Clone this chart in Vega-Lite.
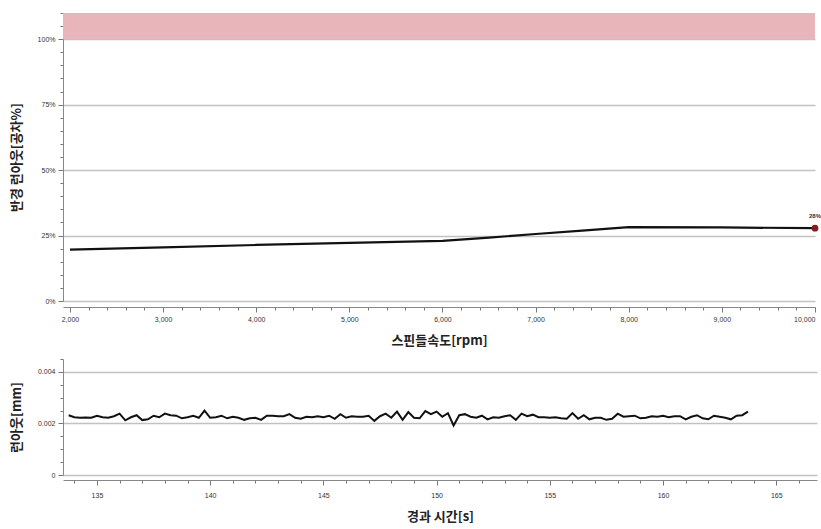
{
  "$schema": "https://vega.github.io/schema/vega-lite/v6.json",
  "padding": {"left": 10, "top": 9, "right": 0, "bottom": 5},
  "background": "white",
  "spacing": 8,
  "config": {
    "view": {"stroke": null},
    "font": "Noto Sans CJK KR",
    "axis": {
      "labelFont": "Liberation Sans",
      "labelFontSize": 7,
      "labelColor": "#333",
      "labelOverlap": false,
      "titleFont": "Noto Sans CJK KR",
      "titleFontSize": 13,
      "titleFontWeight": "bold",
      "titleColor": "#222",
      "domainColor": "#888",
      "tickColor": "#777",
      "gridWidth": 1.5
    }
  },
  "vconcat": [
    {
      "width": 752,
      "height": 288,
      "encoding": {
        "y": {
          "field": "pct", "type": "quantitative", "title": "반경 런아웃[공차%]",
          "scale": {"domain": [0, 110], "nice": false},
          "axis": {
            "values": [0,5,10,15,20,25,30,35,40,45,50,55,60,65,70,75,80,85,90,95,100,105,110],
            "labelExpr": "datum.value % 25 === 0 ? datum.value + '%' : ''",
            "grid": true,
            "gridColor": {"condition": {"test": "datum.value % 25 === 0 && datum.value <= 100", "value": "#c2c2c2"}, "value": "transparent"},
            "tickSize": {"condition": {"test": "datum.value % 25 === 0", "value": 5}, "value": 3},
            "labelPadding": 3,
            "titlePadding": 14
          }
        }
      },
      "layer": [
        {
          "data": {"values": [{"pct": 100, "pct2": 110}]},
          "mark": {"type": "rect", "color": "#e8b6ba"},
          "encoding": {
            "y2": {"field": "pct2"}
          }
        },
        {
          "data": {"values": [
            {"rpm": 2000, "pct": 19.6},
            {"rpm": 3000, "pct": 20.5},
            {"rpm": 4000, "pct": 21.4},
            {"rpm": 5000, "pct": 22.2},
            {"rpm": 6000, "pct": 23.0},
            {"rpm": 6500, "pct": 24.2},
            {"rpm": 7000, "pct": 25.6},
            {"rpm": 7500, "pct": 26.9},
            {"rpm": 8000, "pct": 28.2},
            {"rpm": 9000, "pct": 28.1},
            {"rpm": 10000, "pct": 27.8},
            {"rpm": 10000, "pct": 27.8, "label": "28%"}
          ]},
          "encoding": {
            "x": {
              "field": "rpm", "type": "quantitative",
              "scale": {"domain": [1925, 10000], "nice": false, "zero": false},
              "axis": {
                "title": "스핀들속도[rpm]",
                "values": [2000,2200,2400,2600,2800,3000,3200,3400,3600,3800,4000,4200,4400,4600,4800,5000,5200,5400,5600,5800,6000,6200,6400,6600,6800,7000,7200,7400,7600,7800,8000,8200,8400,8600,8800,9000,9200,9400,9600,9800,10000],
                "labelExpr": "datum.value % 1000 === 0 ? format(datum.value, ',') : ''",
                "tickSize": {"condition": {"test": "datum.value % 1000 === 0", "value": 5}, "value": 3},
                "offset": 6,
                "grid": false,
                "labelPadding": 3,
                "titlePadding": 12
              }
            }
          },
          "layer": [
            {
              "transform": [{"filter": "!isValid(datum.label)"}],
              "mark": {"type": "line", "color": "#111", "strokeWidth": 2.2}
            },
            {
              "transform": [{"filter": "isValid(datum.label)"}],
              "mark": {"type": "point", "filled": true, "color": "#8b1a1a", "size": 45, "opacity": 1}
            },
            {
              "transform": [{"filter": "isValid(datum.label)"}],
              "mark": {"type": "text", "dy": -12, "fontSize": 6, "fontWeight": "bold", "font": "Liberation Sans", "color": "#333"},
              "encoding": {"text": {"field": "label"}}
            }
          ]
        }
      ]
    },
    {
      "width": 754,
      "height": 116,
      "data": {"values": [
        {"t": 133.75, "r": 0.00232}, {"t": 134, "r": 0.00224}, {"t": 134.25, "r": 0.00222}, {"t": 134.5, "r": 0.00223}, {"t": 134.75, "r": 0.00222},
        {"t": 135, "r": 0.00230}, {"t": 135.25, "r": 0.00224}, {"t": 135.5, "r": 0.00222}, {"t": 135.75, "r": 0.00228},
        {"t": 136, "r": 0.00238}, {"t": 136.25, "r": 0.00212}, {"t": 136.5, "r": 0.00224}, {"t": 136.75, "r": 0.00232},
        {"t": 137, "r": 0.00213}, {"t": 137.25, "r": 0.00216}, {"t": 137.5, "r": 0.00230}, {"t": 137.75, "r": 0.00224},
        {"t": 138, "r": 0.00238}, {"t": 138.25, "r": 0.00232}, {"t": 138.5, "r": 0.00230}, {"t": 138.75, "r": 0.00220},
        {"t": 139, "r": 0.00224}, {"t": 139.25, "r": 0.00230}, {"t": 139.5, "r": 0.00222}, {"t": 139.75, "r": 0.00250},
        {"t": 140, "r": 0.00222}, {"t": 140.25, "r": 0.00224}, {"t": 140.5, "r": 0.00230}, {"t": 140.75, "r": 0.00220},
        {"t": 141, "r": 0.00226}, {"t": 141.25, "r": 0.00222}, {"t": 141.5, "r": 0.00214}, {"t": 141.75, "r": 0.00220},
        {"t": 142, "r": 0.00222}, {"t": 142.25, "r": 0.00214}, {"t": 142.5, "r": 0.00230}, {"t": 142.75, "r": 0.00230},
        {"t": 143, "r": 0.00228}, {"t": 143.25, "r": 0.00228}, {"t": 143.5, "r": 0.00236}, {"t": 143.75, "r": 0.00222},
        {"t": 144, "r": 0.00218}, {"t": 144.25, "r": 0.00226}, {"t": 144.5, "r": 0.00224}, {"t": 144.75, "r": 0.00228},
        {"t": 145, "r": 0.00224}, {"t": 145.25, "r": 0.00230}, {"t": 145.5, "r": 0.00218}, {"t": 145.75, "r": 0.00236},
        {"t": 146, "r": 0.00222}, {"t": 146.25, "r": 0.00228}, {"t": 146.5, "r": 0.00226}, {"t": 146.75, "r": 0.00226},
        {"t": 147, "r": 0.00230}, {"t": 147.25, "r": 0.00210}, {"t": 147.5, "r": 0.00228}, {"t": 147.75, "r": 0.00238},
        {"t": 148, "r": 0.00222}, {"t": 148.25, "r": 0.00246}, {"t": 148.5, "r": 0.00214}, {"t": 148.75, "r": 0.00244},
        {"t": 149, "r": 0.00222}, {"t": 149.25, "r": 0.00220}, {"t": 149.5, "r": 0.00248}, {"t": 149.75, "r": 0.00236},
        {"t": 150, "r": 0.00246}, {"t": 150.25, "r": 0.00226}, {"t": 150.5, "r": 0.00240}, {"t": 150.75, "r": 0.00192},
        {"t": 151, "r": 0.00232}, {"t": 151.25, "r": 0.00236}, {"t": 151.5, "r": 0.00226}, {"t": 151.75, "r": 0.00222},
        {"t": 152, "r": 0.00230}, {"t": 152.25, "r": 0.00216}, {"t": 152.5, "r": 0.00224}, {"t": 152.75, "r": 0.00222},
        {"t": 153, "r": 0.00228}, {"t": 153.25, "r": 0.00232}, {"t": 153.5, "r": 0.00214}, {"t": 153.75, "r": 0.00238},
        {"t": 154, "r": 0.00228}, {"t": 154.25, "r": 0.00234}, {"t": 154.5, "r": 0.00224}, {"t": 154.75, "r": 0.00224},
        {"t": 155, "r": 0.00222}, {"t": 155.25, "r": 0.00224}, {"t": 155.5, "r": 0.00220}, {"t": 155.75, "r": 0.00218},
        {"t": 156, "r": 0.00240}, {"t": 156.25, "r": 0.00218}, {"t": 156.5, "r": 0.00232}, {"t": 156.75, "r": 0.00216},
        {"t": 157, "r": 0.00222}, {"t": 157.25, "r": 0.00222}, {"t": 157.5, "r": 0.00214}, {"t": 157.75, "r": 0.00218},
        {"t": 158, "r": 0.00238}, {"t": 158.25, "r": 0.00226}, {"t": 158.5, "r": 0.00228}, {"t": 158.75, "r": 0.00230},
        {"t": 159, "r": 0.00220}, {"t": 159.25, "r": 0.00222}, {"t": 159.5, "r": 0.00228}, {"t": 159.75, "r": 0.00226},
        {"t": 160, "r": 0.00230}, {"t": 160.25, "r": 0.00224}, {"t": 160.5, "r": 0.00228}, {"t": 160.75, "r": 0.00228},
        {"t": 161, "r": 0.00216}, {"t": 161.25, "r": 0.00226}, {"t": 161.5, "r": 0.00232}, {"t": 161.75, "r": 0.00220},
        {"t": 162, "r": 0.00216}, {"t": 162.25, "r": 0.00230}, {"t": 162.5, "r": 0.00226}, {"t": 162.75, "r": 0.00222},
        {"t": 163, "r": 0.00216}, {"t": 163.25, "r": 0.00230}, {"t": 163.5, "r": 0.00232}, {"t": 163.75, "r": 0.00246}
      ]},
      "mark": {"type": "line", "color": "#111", "strokeWidth": 2},
      "encoding": {
        "x": {
          "field": "t", "type": "quantitative",
          "scale": {"domain": [133.5, 166.8], "nice": false, "zero": false},
          "axis": {
            "title": "경과 시간[s]",
            "values": [134,135,136,137,138,139,140,141,142,143,144,145,146,147,148,149,150,151,152,153,154,155,156,157,158,159,160,161,162,163,164,165,166],
            "labelExpr": "datum.value % 5 === 0 ? '' + datum.value : ''",
            "tickSize": {"condition": {"test": "datum.value % 5 === 0", "value": 5}, "value": 3},
            "offset": 5,
            "grid": false,
            "labelPadding": 6,
            "titlePadding": 12
          }
        },
        "y": {
          "field": "r", "type": "quantitative", "title": "런아웃[mm]",
          "scale": {"domain": [0, 0.0045], "nice": false},
          "axis": {
            "values": [0, 0.0005, 0.001, 0.0015, 0.002, 0.0025, 0.003, 0.0035, 0.004, 0.0045],
            "labelExpr": "datum.value === 0 ? '0' : (datum.value === 0.002 || datum.value === 0.004) ? format(datum.value, '.3f') : ''",
            "grid": true,
            "gridColor": {"condition": {"test": "datum.value === 0 || datum.value === 0.002 || datum.value === 0.004", "value": "#c2c2c2"}, "value": "transparent"},
            "tickSize": {"condition": {"test": "datum.value === 0 || datum.value === 0.002 || datum.value === 0.004", "value": 5}, "value": 3},
            "labelPadding": 3,
            "titlePadding": 14
          }
        }
      }
    }
  ]
}
